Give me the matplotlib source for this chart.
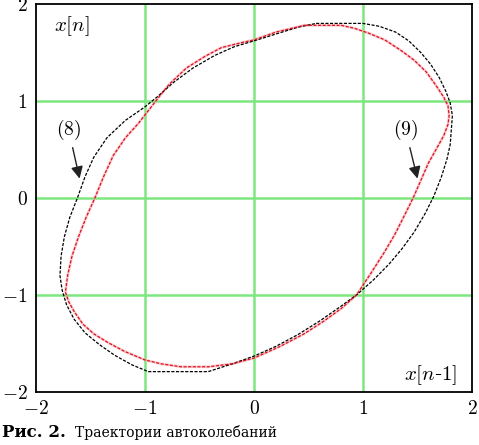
import matplotlib
matplotlib.use("Agg")
import matplotlib.pyplot as plt

plt.rcParams['mathtext.fontset'] = 'cm'
plt.rcParams['font.family'] = ['DejaVu Serif']

# Trajectory (8) - black
x8 = [0.57, 1.0, 1.15, 1.30, 1.42, 1.53, 1.62, 1.70, 1.76, 1.80, 1.82, 1.81, 1.80, 1.77, 1.72,
      1.65, 1.57, 1.47, 1.36, 1.24, 1.10, 0.94, 0.78, 0.60, 0.40, 0.20, 0.0, -0.2, -0.42, -0.97,
      -1.12, -1.28, -1.42, -1.55, -1.65, -1.72, -1.76, -1.78, -1.77, -1.74, -1.69, -1.62, -1.55,
      -1.47, -1.35, -1.18, -1.0, -0.88, -0.74, -0.56, -0.36, -0.18, 0.0, 0.2, 0.4, 0.57]
y8 = [1.80, 1.80, 1.77, 1.71, 1.62, 1.50, 1.38, 1.24, 1.10, 0.98, 0.85, 0.70, 0.55, 0.40, 0.22,
      0.02, -0.16, -0.35, -0.52, -0.68, -0.84, -1.0, -1.13, -1.27, -1.41, -1.53, -1.63, -1.71,
      -1.79, -1.79, -1.72, -1.62, -1.51, -1.39, -1.25, -1.10, -0.95, -0.80, -0.60, -0.40, -0.20,
      0.0, 0.22, 0.42, 0.62, 0.80, 0.94, 1.05, 1.19, 1.34, 1.47, 1.56, 1.62, 1.69, 1.76, 1.80]

# Trajectory (9) - red
x9 = [0.46, 0.8, 0.92, 1.05, 1.2, 1.35, 1.47, 1.58, 1.67, 1.74, 1.78, 1.79, 1.78, 1.74, 1.67,
      1.60, 1.53, 1.46, 1.38, 1.29, 1.19, 1.07, 0.94, 0.80, 0.64, 0.46, 0.24, 0.0, -0.2, -0.42,
      -0.67, -0.85, -1.0, -1.19, -1.34, -1.47, -1.57, -1.65, -1.70, -1.73, -1.71, -1.67, -1.61,
      -1.54, -1.46, -1.38, -1.29, -1.18, -1.06, -0.97, -0.88, -0.78, -0.62, -0.45, -0.30, -0.12,
      0.0, 0.2, 0.46]
y9 = [1.78, 1.78, 1.75, 1.70, 1.63, 1.52, 1.42, 1.30, 1.16, 1.04, 0.95, 0.85, 0.76, 0.64, 0.50,
      0.36, 0.18, 0.0, -0.18, -0.38, -0.57, -0.78, -1.0, -1.14, -1.27, -1.40, -1.53, -1.65, -1.71,
      -1.74, -1.74, -1.71, -1.67, -1.58, -1.49, -1.40, -1.30, -1.17, -1.07, -0.97, -0.80, -0.60,
      -0.40, -0.20, 0.0, 0.22, 0.44, 0.62, 0.77, 0.90, 1.03, 1.17, 1.34, 1.46, 1.55, 1.60, 1.63,
      1.71, 1.78]

ticks = [-2, -1, 0, 1, 2]
tick_labels = [r'$-2$', r'$-1$', r'$0$', r'$1$', r'$2$']

fig = plt.figure(figsize=(4.79, 4.45), dpi=100)
ax = fig.add_axes([36/479, 1-392/445, 436/479, 388/445])
ax.set_xlim(-2, 2)
ax.set_ylim(-2, 2)

for g in [-1, 0, 1]:
    ax.axvline(g, color='#7ee67e', lw=1.8, zorder=1)
    ax.axhline(g, color='#7ee67e', lw=1.8, zorder=1)

ax.plot(x8, y8, color='black', lw=0.9, ls=(0, (2.5, 1.2)), zorder=3)
ax.plot(x9, y9, color='#f4a0a8', lw=2.0, alpha=0.5, zorder=2)
ax.plot(x9, y9, color='#e0101e', lw=0.9, ls=(0, (2.5, 1.2)), zorder=3)

ax.set_xticks(ticks)
ax.set_xticklabels(tick_labels, fontsize=14)
ax.set_yticks(ticks)
ax.set_yticklabels(tick_labels, fontsize=14)
ax.tick_params(length=0, pad=6)
for s in ax.spines.values():
    s.set_linewidth(1.3)

ax.text(-1.67, 1.77, r'$x[n]$', fontsize=15, ha='center', va='center')
ax.text(1.62, -1.83, r'$x[n$-$\mathit{1}]$', fontsize=15, ha='center', va='center',
        family='DejaVu Serif')

ax.annotate(r'$(8)$', xy=(-1.60, 0.20), xytext=(-1.70, 0.70), fontsize=14,
            ha='center', va='center',
            arrowprops=dict(arrowstyle='-|>', color='#222222', lw=1.0,
                            mutation_scale=18, shrinkA=2, shrinkB=0))
ax.annotate(r'$(9)$', xy=(1.50, 0.20), xytext=(1.39, 0.70), fontsize=14,
            ha='center', va='center',
            arrowprops=dict(arrowstyle='-|>', color='#222222', lw=1.0,
                            mutation_scale=18, shrinkA=2, shrinkB=0))

fig.text(2/479, 1-437/445, 'Рис. 2.', fontsize=12, fontweight='bold', ha='left',
         va='baseline', family='DejaVu Serif')
fig.text(75/479, 1-437/445, 'Траектории автоколебаний', fontsize=10, ha='left',
         va='baseline', family='DejaVu Serif')

fig.savefig('out.png', dpi=100)
